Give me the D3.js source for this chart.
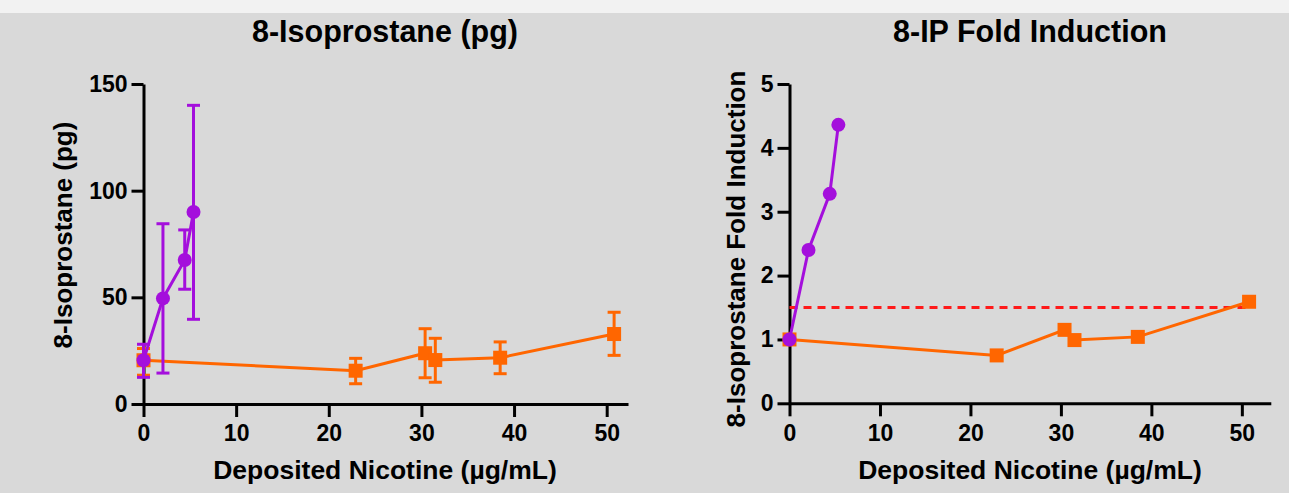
<!DOCTYPE html>
<html>
<head>
<meta charset="utf-8">
<script src="https://cdn.jsdelivr.net/npm/d3@7"></script>
<style>
  html, body { margin: 0; padding: 0; background: #f2f2f2; }
  svg { display: block; font-family: "Liberation Sans", Arial, Helvetica, sans-serif; }
</style>
</head>
<body>
<svg id="chart" width="1289" height="493"></svg>
<script>
// x positions (deposited nicotine, µg/mL)
const purpleX = [0, 2.1, 4.45, 5.4];
const orangeX = [0, 22.9, 30.4, 31.5, 38.5, 50.8];

// left panel: 8-Isoprostane (pg), mean with error bars
const purplePg = [20.5, 49.5, 67.5, 90];
const purplePgLo = [12.5, 14.5, 53.8, 39.7];
const purplePgHi = [28, 84.5, 81.6, 140];
const orangePg = [20.5, 15.6, 23.8, 20.6, 21.7, 32.8];
const orangePgLo = [13.5, 9.5, 12.3, 10.2, 14.2, 22.8];
const orangePgHi = [26, 21.4, 35.3, 30.8, 29.1, 43];

// right panel: fold induction
const purpleFold = [1, 2.4, 3.28, 4.36];
const orangeFold = [1, 0.75, 1.15, 0.99, 1.04, 1.59];
const thresholdFold = 1.5;
const thresholdX = [0, 50.8];

const xTicks = [0, 10, 20, 30, 40, 50];
const yTicksPg = [0, 50, 100, 150];
const yTicksFold = [0, 1, 2, 3, 4, 5];

const PURPLE = "#a40fdc";
const ORANGE = "#ff6600";

const svg = d3.select("#chart");

svg.append("rect")
  .attr("x", 0).attr("y", 13)
  .attr("width", 1289).attr("height", 480)
  .attr("fill", "#d9d9d9");

function panel(opts) {
  const x = d3.scaleLinear().domain(opts.xDomain).range(opts.xRange);
  const y = d3.scaleLinear().domain(opts.yDomain).range(opts.yRange);
  const g = svg.append("g");

  // title
  g.append("text")
    .attr("x", opts.titleX).attr("y", 42)
    .attr("text-anchor", "middle")
    .attr("font-size", 30.5).attr("font-weight", "bold")
    .text(opts.title);

  // axes
  const xAxis = g.append("g")
    .attr("transform", `translate(0,${opts.yRange[0]})`)
    .call(d3.axisBottom(x).tickValues(xTicks).tickSize(13).tickSizeOuter(0).tickPadding(8));
  const yAxis = g.append("g")
    .attr("transform", `translate(${opts.xRange[0]},0)`)
    .call(d3.axisLeft(y).tickValues(opts.yTicks).tickFormat(d3.format("d"))
      .tickSize(12).tickSizeOuter(0).tickPadding(4));
  [xAxis, yAxis].forEach(a => {
    a.selectAll("path, line").attr("stroke", "#000").attr("stroke-width", 3);
    a.selectAll("text").attr("fill", "#000")
      .attr("font-size", 23).attr("font-weight", "bold")
      .attr("font-family", "Liberation Sans, Arial, sans-serif");
  });

  g.append("text")
    .attr("x", opts.titleX).attr("y", 479)
    .attr("text-anchor", "middle")
    .attr("font-size", 26.5).attr("font-weight", "bold")
    .text("Deposited Nicotine (µg/mL)");

  g.append("text")
    .attr("transform", `translate(${opts.yLabelX},${opts.yLabelY}) rotate(-90)`)
    .attr("text-anchor", "middle")
    .attr("font-size", 26).attr("font-weight", "bold")
    .text(opts.yLabel);

  return { g, x, y };
}

function errorBars(g, x, y, xs, lo, hi, color) {
  const cap = 6.5;
  const eb = g.append("g").attr("stroke", color).attr("stroke-width", 3);
  xs.forEach((xv, i) => {
    eb.append("line")
      .attr("x1", x(xv)).attr("x2", x(xv))
      .attr("y1", y(lo[i])).attr("y2", y(hi[i]));
    [lo[i], hi[i]].forEach(v => {
      eb.append("line")
        .attr("x1", x(xv) - cap).attr("x2", x(xv) + cap)
        .attr("y1", y(v)).attr("y2", y(v));
    });
  });
}

function series(g, x, y, xs, ys, color, shape) {
  const pts = xs.map((v, i) => [v, ys[i]]);
  g.append("path")
    .datum(pts)
    .attr("fill", "none")
    .attr("stroke", color)
    .attr("stroke-width", 3)
    .attr("d", d3.line().x(d => x(d[0])).y(d => y(d[1])));
  if (shape === "circle") {
    g.selectAll(null).data(pts).join("circle")
      .attr("cx", d => x(d[0])).attr("cy", d => y(d[1]))
      .attr("r", 7).attr("fill", color);
  } else {
    g.selectAll(null).data(pts).join("rect")
      .attr("x", d => x(d[0]) - 7).attr("y", d => y(d[1]) - 7)
      .attr("width", 14).attr("height", 14).attr("fill", color);
  }
}

// left panel
const L = panel({
  xDomain: [0, 52.3], xRange: [143.5, 628],
  yDomain: [0, 150], yRange: [404, 84],
  yTicks: yTicksPg, title: "8-Isoprostane (pg)", titleX: 385,
  yLabel: "8-Isoprostane (pg)", yLabelX: 72, yLabelY: 235
});
errorBars(L.g, L.x, L.y, orangeX, orangePgLo, orangePgHi, ORANGE);
series(L.g, L.x, L.y, orangeX, orangePg, ORANGE, "square");
errorBars(L.g, L.x, L.y, purpleX, purplePgLo, purplePgHi, PURPLE);
series(L.g, L.x, L.y, purpleX, purplePg, PURPLE, "circle");

// right panel
const R = panel({
  xDomain: [0, 53.2], xRange: [789.5, 1270.8],
  yDomain: [0, 5], yRange: [403.3, 84],
  yTicks: yTicksFold, title: "8-IP Fold Induction", titleX: 1030,
  yLabel: "8-Isoprostane Fold Induction", yLabelX: 745, yLabelY: 249
});
R.g.append("line")
  .attr("x1", R.x(thresholdX[0])).attr("x2", R.x(thresholdX[1]))
  .attr("y1", R.y(thresholdFold)).attr("y2", R.y(thresholdFold))
  .attr("stroke", "#ff1a1a").attr("stroke-width", 3)
  .attr("stroke-dasharray", "8,6");
series(R.g, R.x, R.y, orangeX, orangeFold, ORANGE, "square");
series(R.g, R.x, R.y, purpleX, purpleFold, PURPLE, "circle");
</script>
</body>
</html>
